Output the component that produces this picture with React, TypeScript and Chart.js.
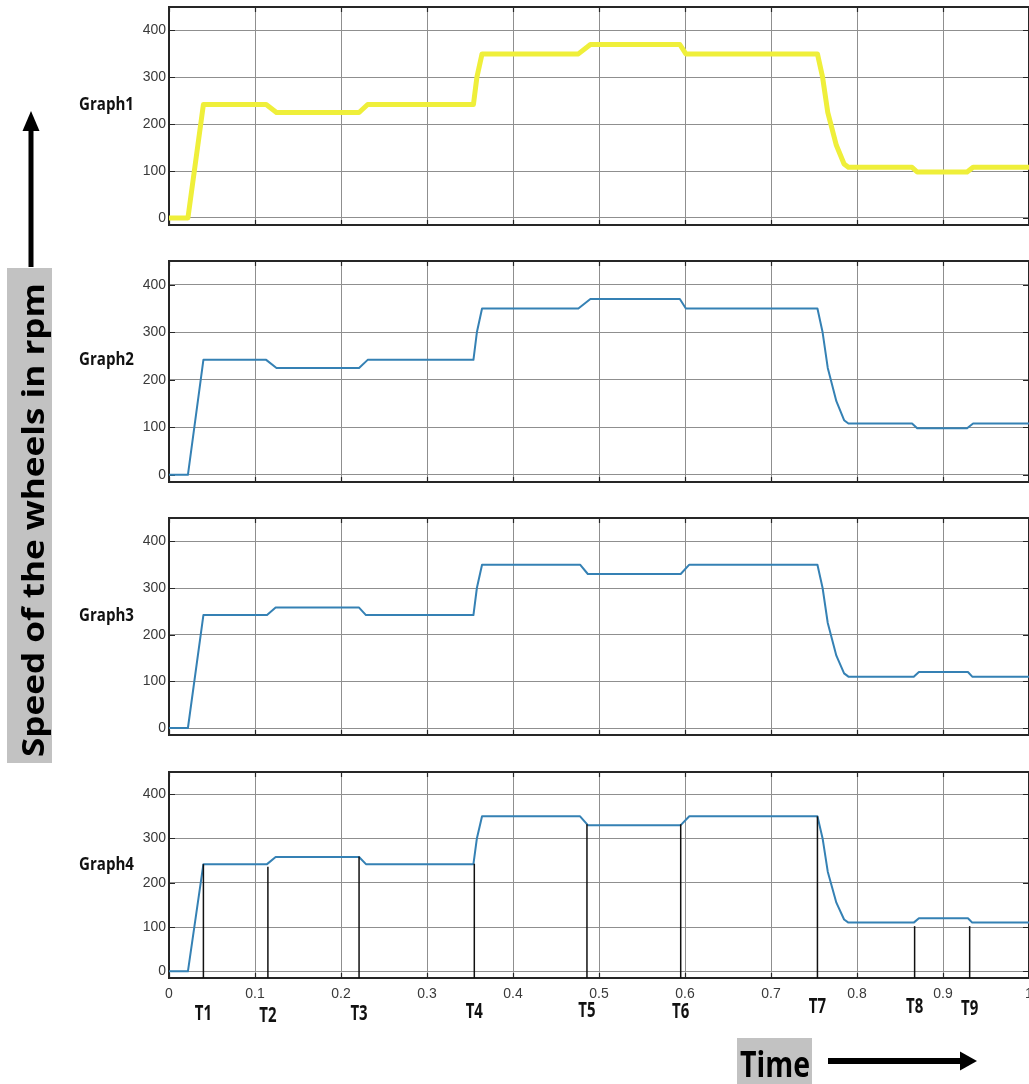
import React, { useEffect, useRef } from 'react';
import { Chart, registerables } from 'chart.js';

Chart.register(...registerables);

// ---------------- data ----------------
const xTicks = [0, 0.1, 0.2, 0.3, 0.4, 0.5, 0.6, 0.7, 0.8, 0.9, 1];
const xTickLabels = ['0', '0.1', '0.2', '0.3', '0.4', '0.5', '0.6', '0.7', '0.8', '0.9', '1'];
const yTicks = [0, 100, 200, 300, 400];
const yTickLabels = ['0', '100', '200', '300', '400'];

const graphNames = ['Graph1', 'Graph2', 'Graph3', 'Graph4'];

const graph1Time = [0, 0.022, 0.04, 0.113, 0.125, 0.221, 0.231, 0.354, 0.358, 0.364, 0.476, 0.49, 0.594, 0.601, 0.754, 0.76, 0.766, 0.776, 0.785, 0.79, 0.864, 0.87, 0.928, 0.935, 1.0];
const graph1Speed = [0, 0, 242, 242, 225, 225, 242, 242, 300, 350, 350, 370, 370, 350, 350, 300, 225, 155, 115, 108, 108, 98, 98, 108, 108];

const graph2Time = [0, 0.022, 0.04, 0.113, 0.125, 0.221, 0.231, 0.354, 0.358, 0.364, 0.476, 0.49, 0.594, 0.601, 0.754, 0.76, 0.766, 0.776, 0.785, 0.79, 0.864, 0.87, 0.928, 0.935, 1.0];
const graph2Speed = [0, 0, 242, 242, 225, 225, 242, 242, 300, 350, 350, 370, 370, 350, 350, 300, 225, 155, 115, 108, 108, 98, 98, 108, 108];

const graph3Time = [0, 0.022, 0.04, 0.114, 0.124, 0.221, 0.229, 0.354, 0.358, 0.364, 0.478, 0.487, 0.595, 0.605, 0.754, 0.76, 0.766, 0.776, 0.785, 0.79, 0.866, 0.872, 0.929, 0.934, 1.0];
const graph3Speed = [0, 0, 242, 242, 258, 258, 242, 242, 300, 350, 350, 330, 330, 350, 350, 300, 225, 155, 117, 110, 110, 120, 120, 110, 110];

const graph4Time = [0, 0.022, 0.04, 0.114, 0.124, 0.221, 0.229, 0.354, 0.358, 0.364, 0.478, 0.487, 0.595, 0.605, 0.754, 0.76, 0.766, 0.776, 0.785, 0.79, 0.866, 0.872, 0.929, 0.934, 1.0];
const graph4Speed = [0, 0, 242, 242, 258, 258, 242, 242, 300, 350, 350, 330, 330, 350, 350, 300, 225, 155, 117, 110, 110, 120, 120, 110, 110];

const markerNames = ['T1', 'T2', 'T3', 'T4', 'T5', 'T6', 'T7', 'T8', 'T9'];
const markerTimes = [0.04, 0.115, 0.221, 0.355, 0.486, 0.595, 0.754, 0.867, 0.931];
const markerSpeeds = [242, 236, 259, 243, 332, 332, 350, 102, 102];

const yTitle = 'Speed of the wheels in rpm';
const xTitle = 'Time';

// ---------------- layout / style ----------------
const W = 1029;
const H = 1084;
const Y_MIN = -15;
const Y_MAX = 450;
const PLOT_LEFT = 169;
const X_AXIS_H = 30;
const GRID = '#8f8f8f';
const AXIS = '#262626';
const TICK_FONT = "'Liberation Sans', Arial, sans-serif";
const BOLD_FONT = "'Open Sans', 'Noto Sans', sans-serif";
const BOX_GREY = '#c2c2c2';
const BLUE = '#3581b4';
const YELLOW = '#efef3a';
const GRAPH_LABEL_LEVEL = 245;
const T_LABEL_BASELINE = [1020, 1022, 1020, 1018, 1017, 1018, 1013, 1013, 1015];

const PANELS = [
  { top: 7, bottom: 225, color: YELLOW, width: 5 },
  { top: 261, bottom: 482, color: BLUE, width: 2 },
  { top: 518, bottom: 735, color: BLUE, width: 2 },
  { top: 772, bottom: 978, color: BLUE, width: 2 },
];

const SERIES = [
  { t: graph1Time, v: graph1Speed },
  { t: graph2Time, v: graph2Speed },
  { t: graph3Time, v: graph3Speed },
  { t: graph4Time, v: graph4Speed },
];

const framePlugin = {
  id: 'frame',
  beforeDatasetsDraw(chart: any) {
    const { ctx, chartArea: a, scales } = chart;
    ctx.save();
    ctx.strokeStyle = AXIS;
    ctx.lineWidth = 1.2;
    ctx.beginPath();
    for (const v of xTicks) {
      const px = Math.round(scales.x.getPixelForValue(v)) + 0.5;
      ctx.moveTo(px, a.top);
      ctx.lineTo(px, a.top + 5);
      ctx.moveTo(px, a.bottom);
      ctx.lineTo(px, a.bottom - 5);
    }
    for (const v of yTicks) {
      const py = Math.round(scales.y.getPixelForValue(v)) + 0.5;
      ctx.moveTo(a.left, py);
      ctx.lineTo(a.left + 6, py);
      ctx.moveTo(a.right, py);
      ctx.lineTo(a.right - 6, py);
    }
    ctx.stroke();
    ctx.lineWidth = 2;
    ctx.strokeRect(a.left, a.top, a.right - a.left, a.bottom - a.top);
    ctx.restore();
  },
};

function makeGraphLabelPlugin(name: string) {
  return {
    id: 'graphLabel',
    afterDraw(chart: any) {
      const ctx = chart.ctx;
      const y = chart.scales.y.getPixelForValue(GRAPH_LABEL_LEVEL);
      ctx.save();
      ctx.font = `bold 18px ${BOLD_FONT}`;
      const w = ctx.measureText('Graph1').width;
      ctx.translate(79, y + 7);
      ctx.scale(55 / w, 1);
      ctx.fillStyle = '#111';
      ctx.textAlign = 'left';
      ctx.textBaseline = 'alphabetic';
      ctx.fillText(name, 0, 0);
      ctx.restore();
    },
  };
}

const markerLabelPlugin = {
  id: 'markerLabels',
  afterDraw(chart: any) {
    const ctx = chart.ctx;
    ctx.save();
    ctx.font = `bold 22px ${BOLD_FONT}`;
    ctx.fillStyle = '#111';
    ctx.textAlign = 'center';
    ctx.textBaseline = 'alphabetic';
    markerNames.forEach((name, k) => {
      const x = chart.scales.x.getPixelForValue(markerTimes[k]);
      ctx.save();
      ctx.translate(x, T_LABEL_BASELINE[k]);
      ctx.scale(0.68, 1);
      ctx.fillText(name, 0, 0);
      ctx.restore();
    });
    ctx.restore();
  },
};

const decorPlugin = {
  id: 'decor',
  afterDraw(chart: any) {
    const ctx = chart.ctx;
    ctx.save();
    // vertical title
    ctx.fillStyle = BOX_GREY;
    ctx.fillRect(7, 268, 45, 495);
    ctx.fillStyle = '#000';
    ctx.font = `bold 31px ${BOLD_FONT}`;
    const tw = ctx.measureText(yTitle).width;
    ctx.save();
    ctx.translate(44, 757);
    ctx.rotate(-Math.PI / 2);
    ctx.scale(474 / tw, 1);
    ctx.textAlign = 'left';
    ctx.textBaseline = 'alphabetic';
    ctx.fillText(yTitle, 0, 0);
    ctx.restore();
    // up arrow
    ctx.fillRect(28.5, 128, 5, 139);
    ctx.beginPath();
    ctx.moveTo(31, 111);
    ctx.lineTo(22.5, 131);
    ctx.lineTo(39.5, 131);
    ctx.closePath();
    ctx.fill();
    // time title
    ctx.fillStyle = BOX_GREY;
    ctx.fillRect(737, 1038, 75, 46);
    ctx.fillStyle = '#000';
    ctx.font = `bold 35px ${BOLD_FONT}`;
    const xw = ctx.measureText(xTitle).width;
    ctx.save();
    ctx.translate(740, 1077);
    ctx.scale(70 / xw, 1);
    ctx.textAlign = 'left';
    ctx.textBaseline = 'alphabetic';
    ctx.fillText(xTitle, 0, 0);
    ctx.restore();
    // right arrow
    ctx.fillRect(828, 1058, 135, 6);
    ctx.beginPath();
    ctx.moveTo(977, 1061);
    ctx.lineTo(960, 1051.5);
    ctx.lineTo(960, 1070.5);
    ctx.closePath();
    ctx.fill();
    ctx.restore();
  },
};

function buildConfig(i: number): any {
  const p = PANELS[i];
  const s = SERIES[i];
  const datasets: any[] = [
    {
      data: s.t.map((t, k) => ({ x: t, y: s.v[k] })),
      borderColor: p.color,
      borderWidth: p.width,
      pointRadius: 0,
      tension: 0,
      borderJoinStyle: 'round',
      borderCapStyle: 'round',
      order: 1,
    },
  ];
  const isLast = i === PANELS.length - 1;
  if (isLast) {
    markerTimes.forEach((t, k) => {
      datasets.push({
        data: [
          { x: t, y: Y_MIN },
          { x: t, y: markerSpeeds[k] },
        ],
        borderColor: '#111',
        borderWidth: 1.5,
        pointRadius: 0,
        order: 0,
      });
    });
  }
  const plugins: any[] = [framePlugin, makeGraphLabelPlugin(graphNames[i])];
  if (isLast) plugins.push(markerLabelPlugin, decorPlugin);
  return {
    type: 'line',
    data: { datasets },
    plugins,
    options: {
      responsive: false,
      maintainAspectRatio: false,
      animation: false,
      events: [],
      layout: { padding: { left: 0, right: 0, top: p.top, bottom: H - p.bottom - X_AXIS_H } },
      plugins: { legend: { display: false }, tooltip: { enabled: false }, title: { display: false } },
      elements: { point: { radius: 0 }, line: { tension: 0 } },
      scales: {
        x: {
          type: 'linear',
          min: 0,
          max: 1,
          afterBuildTicks: (sc: any) => {
            sc.ticks = xTicks.map((v) => ({ value: v }));
          },
          afterFit: (sc: any) => {
            sc.height = X_AXIS_H;
            sc.paddingLeft = 0;
            sc.paddingRight = 0;
          },
          grid: { color: GRID, lineWidth: 1, drawTicks: false },
          border: { display: false },
          ticks: {
            display: isLast,
            padding: 8,
            maxRotation: 0,
            autoSkip: false,
            color: '#3a3a3a',
            font: { family: TICK_FONT, size: 14 },
            callback: (_v: any, idx: number) => xTickLabels[idx],
          },
        },
        y: {
          type: 'linear',
          min: Y_MIN,
          max: Y_MAX,
          afterBuildTicks: (sc: any) => {
            sc.ticks = yTicks.map((v) => ({ value: v }));
          },
          afterFit: (sc: any) => {
            sc.width = PLOT_LEFT;
            sc.paddingTop = 0;
            sc.paddingBottom = 0;
          },
          grid: { color: GRID, lineWidth: 1, drawTicks: false },
          border: { display: false },
          ticks: {
            padding: 3,
            color: '#3a3a3a',
            font: { family: TICK_FONT, size: 14 },
            callback: (_v: any, idx: number) => yTickLabels[idx],
          },
        },
      },
    },
  };
}

export default function App() {
  const refs = useRef<(HTMLCanvasElement | null)[]>([]);
  useEffect(() => {
    const charts = PANELS.map((_, i) => new Chart(refs.current[i] as HTMLCanvasElement, buildConfig(i)));
    return () => charts.forEach((c) => c.destroy());
  }, []);
  return (
    <div style={{ position: 'absolute', left: 0, top: 0, width: W, height: H, background: '#fff', overflow: 'hidden' }}>
      {PANELS.map((_, i) => (
        <canvas
          key={i}
          ref={(el) => {
            refs.current[i] = el;
          }}
          width={W}
          height={H}
          style={{ position: 'absolute', left: 0, top: 0, width: W, height: H }}
        />
      ))}
    </div>
  );
}
